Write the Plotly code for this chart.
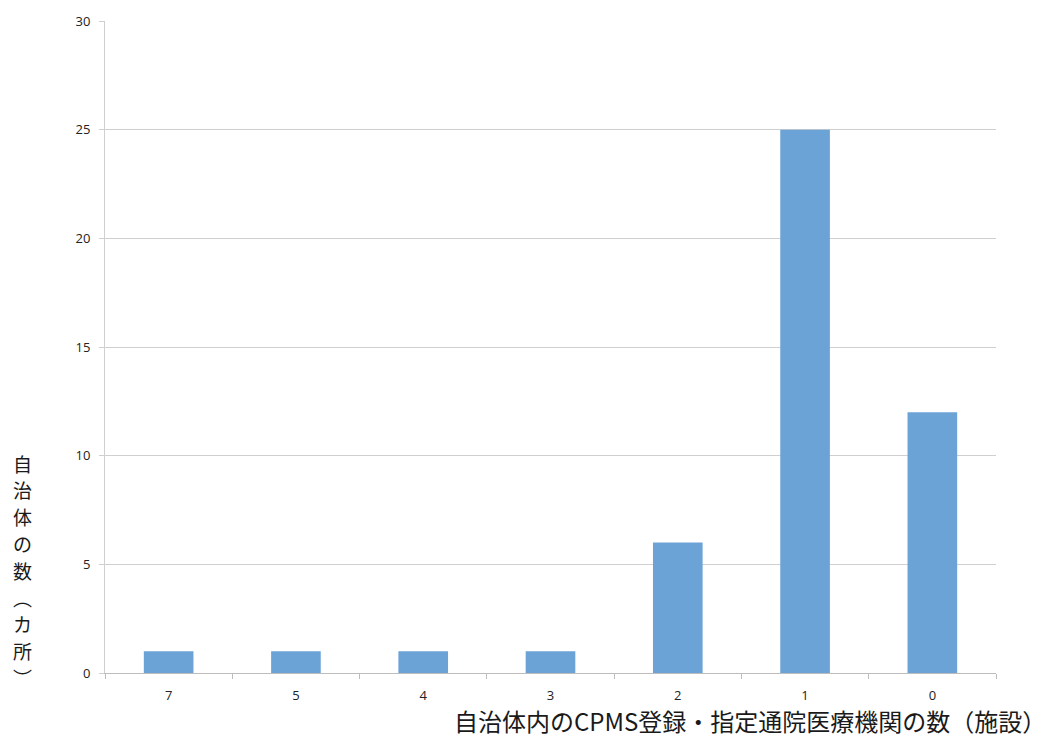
import plotly.graph_objects as go

categories = ["7", "5", "4", "3", "2", "1", "0"]
counts = [1, 1, 1, 1, 6, 25, 12]
y_ticks = [0, 5, 10, 15, 20, 25, 30]

x_title = "自治体内のCPMS登録・指定通院医療機関の数（施設）"
y_title_chars = ["自", "治", "体", "の", "数", "︵", "カ", "所", "︶"]

fig = go.Figure()
fig.add_trace(go.Bar(
    x=categories, y=counts,
    marker=dict(color="#6ca3d7", line=dict(width=0)),
    width=0.39,
    hoverinfo="x+y",
))

tick_font = dict(family="Open Sans, Liberation Sans, sans-serif", size=13, color="#222222")

annotations = [
    dict(text=x_title, xref="paper", yref="paper", x=1.0, y=0, xshift=52, yshift=-28,
         xanchor="right", yanchor="top", showarrow=False,
         font=dict(family="Noto Sans CJK JP", size=24, color="#1a1a1a")),
]
# vertical y-axis title, one character per line
for i, ch in enumerate(y_title_chars):
    annotations.append(dict(
        text=ch, xref="paper", yref="paper", x=0, y=0,
        xshift=-83, yshift=210 - i * 26.8,
        xanchor="center", yanchor="middle", showarrow=False,
        font=dict(family="Noto Sans CJK JP", size=19, color="#1a1a1a"),
    ))

fig.update_layout(
    width=1048, height=751,
    margin=dict(l=105, r=52, t=21, b=78),
    plot_bgcolor="white", paper_bgcolor="white",
    showlegend=False,
    xaxis=dict(
        type="category",
        showgrid=False,
        showline=True, linecolor="#bdbdbd", linewidth=1,
        ticks="outside", tickson="boundaries", ticklen=5, tickcolor="#bdbdbd",
        tickfont=tick_font, ticklabelstandoff=10,
    ),
    yaxis=dict(
        range=[0, 30],
        tickvals=y_ticks,
        showgrid=True, gridcolor="#cfcfcf", gridwidth=1,
        showline=True, linecolor="#cfcfcf", linewidth=1,
        ticks="outside", ticklen=5, tickcolor="#cfcfcf",
        tickfont=tick_font, ticklabelstandoff=6,
        zeroline=False,
    ),
    annotations=annotations,
)

fig.write_html("out.html")
